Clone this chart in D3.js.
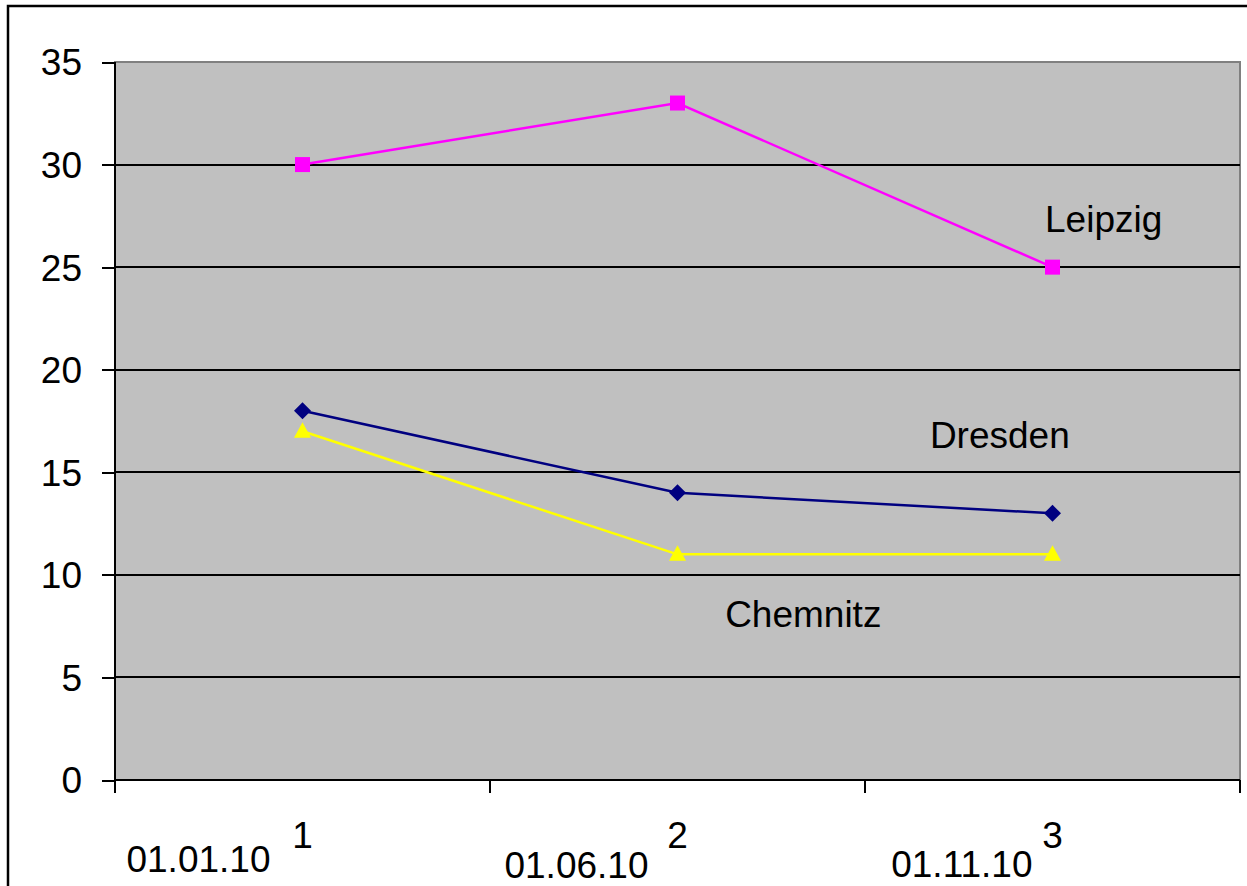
<!DOCTYPE html>
<html>
<head>
<meta charset="utf-8">
<script src="https://cdn.jsdelivr.net/npm/d3@7"></script>
<style>
  html, body { margin: 0; padding: 0; background: #fff; }
  svg { display: block; font-family: Arial, "Liberation Sans", sans-serif; }
</style>
</head>
<body>
<svg id="chart" width="1247" height="886"></svg>
<script>
// data
const categories = ['1', '2', '3'];
const dateLabels = ['01.01.10', '01.06.10', '01.11.10'];
const leipzig = [30, 33, 25];
const dresden = [18, 14, 13];
const chemnitz = [17, 11, 11];
const yTicks = [0, 5, 10, 15, 20, 25, 30, 35];

const series = [
  { name: 'Leipzig', values: leipzig, color: '#FF00FF', marker: 'square', label: [2.48, 26.7] },
  { name: 'Dresden', values: dresden, color: '#000080', marker: 'diamond', label: [2.173, 16.2] },
  { name: 'Chemnitz', values: chemnitz, color: '#FFFF00', marker: 'triangle', label: [1.627, 7.46] }
];

// layout
const plot = { left: 115, top: 62, right: 1240, bottom: 780 };
const FONT_SIZE = 37;
// offsets of the date text boxes from the category label (dx of right end, dy of baseline)
const dateOffsets = [[-32, 24], [-29, 30], [-20, 29]];

const svg = d3.select('#chart');

const x = d3.scaleBand()
  .domain(categories)
  .range([plot.left, plot.right]);
const xPos = d3.scaleLinear()
  .domain([0, categories.length])
  .range([plot.left, plot.right]);
const y = d3.scaleLinear()
  .domain([0, 35])
  .range([plot.bottom, plot.top]);

const cx = c => x(c) + x.bandwidth() / 2;

// outer chart frame (runs off the right and bottom edges)
svg.append('rect')
  .attr('x', 8)
  .attr('y', 6)
  .attr('width', 1260)
  .attr('height', 900)
  .attr('fill', 'none')
  .attr('stroke', '#000')
  .attr('stroke-width', 2.5);

// plot area
svg.append('rect')
  .attr('x', plot.left)
  .attr('y', plot.top)
  .attr('width', plot.right - plot.left)
  .attr('height', plot.bottom - plot.top)
  .attr('fill', '#C0C0C0')
  .attr('stroke', '#808080')
  .attr('stroke-width', 2)
  .attr('shape-rendering', 'crispEdges');

// gridlines
svg.append('g')
  .attr('shape-rendering', 'crispEdges')
  .selectAll('line')
  .data(yTicks.filter(d => d > 0 && d < 35))
  .join('line')
  .attr('x1', plot.left)
  .attr('x2', plot.right)
  .attr('y1', d => y(d))
  .attr('y2', d => y(d))
  .attr('stroke', '#000')
  .attr('stroke-width', 2);

// y axis
const yAxis = svg.append('g')
  .attr('transform', `translate(${plot.left},0)`)
  .attr('shape-rendering', 'crispEdges')
  .call(d3.axisLeft(y).tickValues(yTicks).tickSize(13).tickPadding(20));
yAxis.select('.domain').attr('stroke', '#000').attr('stroke-width', 2)
  .attr('d', `M0,${plot.top}V${plot.bottom + 13}`);
yAxis.selectAll('.tick line').attr('stroke', '#000').attr('stroke-width', 2);
yAxis.selectAll('.tick text')
  .attr('fill', '#000')
  .attr('font-size', FONT_SIZE)
  .attr('font-family', 'Arial, "Liberation Sans", sans-serif')
  .attr('dy', '0.35em');

// x axis
const xAxis = svg.append('g')
  .attr('transform', `translate(0,${plot.bottom})`);
xAxis.append('line')
  .attr('x1', plot.left)
  .attr('x2', plot.right)
  .attr('stroke', '#000')
  .attr('stroke-width', 2)
  .attr('shape-rendering', 'crispEdges');
xAxis.selectAll('line.tick')
  .data(d3.range(categories.length + 1))
  .join('line')
  .attr('class', 'tick')
  .attr('x1', d => xPos(d))
  .attr('x2', d => xPos(d))
  .attr('y1', 0)
  .attr('y2', 13)
  .attr('stroke', '#000')
  .attr('stroke-width', 2)
  .attr('shape-rendering', 'crispEdges');
xAxis.selectAll('text.cat')
  .data(categories)
  .join('text')
  .attr('class', 'cat')
  .attr('x', d => cx(d))
  .attr('y', 68)
  .attr('text-anchor', 'middle')
  .attr('font-size', FONT_SIZE)
  .text(d => d);

// date text boxes under the categories
xAxis.selectAll('text.date')
  .data(dateLabels)
  .join('text')
  .attr('class', 'date')
  .attr('x', (d, i) => cx(categories[i]) + dateOffsets[i][0])
  .attr('y', (d, i) => 68 + dateOffsets[i][1])
  .attr('text-anchor', 'end')
  .attr('font-size', FONT_SIZE)
  .text(d => d);

// lines
const line = d3.line()
  .x((d, i) => cx(categories[i]))
  .y(d => y(d));

svg.append('g')
  .selectAll('path')
  .data(series)
  .join('path')
  .attr('d', s => line(s.values))
  .attr('fill', 'none')
  .attr('stroke', s => s.color)
  .attr('stroke-width', 2.5);

// markers
const markerPath = {
  square: 'M-7.5,-7.5H7.5V7.5H-7.5Z',
  diamond: 'M0,-8.5L8.5,0L0,8.5L-8.5,0Z',
  triangle: 'M0,-9L8.5,6.5H-8.5Z'
};

series.forEach(s => {
  svg.append('g')
    .selectAll('path')
    .data(s.values)
    .join('path')
    .attr('transform', (d, i) => `translate(${cx(categories[i])},${y(d)})`)
    .attr('d', markerPath[s.marker])
    .attr('fill', s.color);
});

// series name labels
svg.append('g')
  .selectAll('text')
  .data(series)
  .join('text')
  .attr('x', s => xPos(s.label[0]))
  .attr('y', s => y(s.label[1]))
  .attr('font-size', FONT_SIZE)
  .attr('fill', '#000')
  .text(s => s.name);
</script>
</body>
</html>
